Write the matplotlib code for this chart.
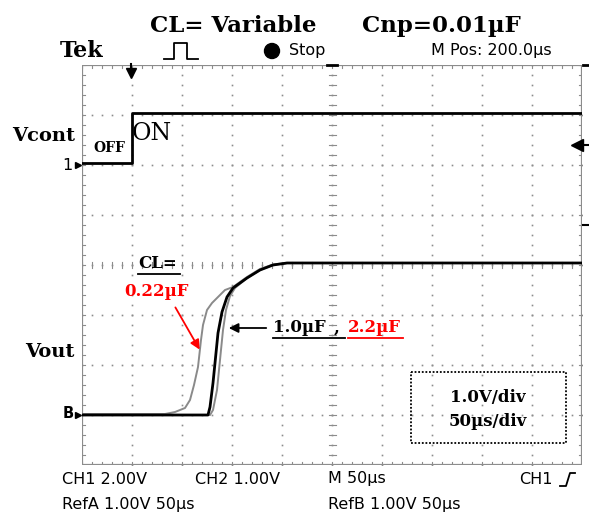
import matplotlib.pyplot as plt
import numpy as np
from matplotlib.patches import Rectangle, Circle

# scope traces, in divisions (x: 50us/div, y: 1 div steps)
vcont_t = [0.0, 1.0, 1.0, 10.0]
vcont_v = [6.04, 6.04, 7.04, 7.04]

# CL = 1.0uF (black)
t_10u = [0, 2.52, 2.56, 2.62, 2.66, 2.72, 2.80, 2.90, 3.02, 3.30, 3.56, 3.82, 4.10, 10]
v_10u = [1.0, 1.0, 1.16, 1.64, 2.04, 2.64, 3.06, 3.36, 3.54, 3.74, 3.90, 4.00, 4.04, 4.04]

# CL = 0.22uF (gray, earliest)
t_022u = [0, 1.66, 1.86, 2.06, 2.16, 2.24, 2.32, 2.38, 2.42, 2.50, 2.60, 2.72, 2.86,
          3.02, 3.30, 3.56, 3.82, 4.10, 10]
v_022u = [1.02, 1.02, 1.06, 1.14, 1.30, 1.60, 1.96, 2.50, 2.80, 3.10, 3.24, 3.36, 3.50,
          3.56, 3.76, 3.92, 4.01, 4.04, 4.04]

# CL = 2.2uF (gray, latest)
t_22u = [0, 2.56, 2.62, 2.70, 2.76, 2.82, 2.88, 2.96, 3.06, 3.30, 3.56, 3.82, 4.10, 10]
v_22u = [1.0, 1.0, 1.10, 1.50, 2.10, 2.70, 3.10, 3.38, 3.54, 3.74, 3.90, 4.00, 4.04, 4.04]

W, H = 589, 521
fig = plt.figure(figsize=(W / 100, H / 100), dpi=100)

# screen area: 500 x 400 px, 10 x 8 div
L, R, T, B = 82, 582, 65, 465
ax = fig.add_axes([L / W, (H - B) / H, (R - L) / W, (B - T) / H])
ax.set_xlim(0, 10)
ax.set_ylim(0, 8)
ax.axis('off')

grid_c = '#8c8c8c'
# dotted graticule
fine = np.arange(0, 10.01, 0.2)
ys = np.arange(0, 8.01, 0.2)
for gx in range(1, 10):
    ax.plot(np.full_like(ys, gx), ys, ls='none', marker='s', ms=1.2, color=grid_c, mew=0)
for gy in range(1, 8):
    ax.plot(fine, np.full_like(fine, gy), ls='none', marker='s', ms=1.2, color=grid_c, mew=0)
# centre lines with ticks
for yy in ys:
    ax.plot([4.93, 5.07], [yy, yy], color=grid_c, lw=0.8)
for xx in fine:
    ax.plot([xx, xx], [3.94, 4.06], color=grid_c, lw=0.8)
# border with ticks
ax.add_patch(Rectangle((0, 0), 10, 8, fill=False, ec=grid_c, lw=1.6, zorder=5))
for xx in fine:
    ax.plot([xx, xx], [0, 0.06], color=grid_c, lw=0.8)
    ax.plot([xx, xx], [8, 7.94], color=grid_c, lw=0.8)
for yy in ys:
    ax.plot([0, 0.06], [yy, yy], color=grid_c, lw=0.8)
    ax.plot([10, 9.94], [yy, yy], color=grid_c, lw=0.8)

# traces
ax.plot(t_022u, v_022u, color='#8a8a8a', lw=1.4, zorder=6)
ax.plot(t_22u, v_22u, color='#8a8a8a', lw=1.4, zorder=6)
ax.plot(t_10u, v_10u, color='black', lw=2.0, zorder=7)
ax.plot(vcont_t, vcont_v, color='black', lw=2.0, zorder=7)

# overlay in pixel coordinates for the labels
ov = fig.add_axes([0, 0, 1, 1], zorder=10)
ov.set_xlim(0, W)
ov.set_ylim(H, 0)
ov.axis('off')
ov.patch.set_alpha(0)

serif = 'DejaVu Serif'
scope = 'DejaVu Sans'
fs_scope = 11.5

ov.text(150, 32, 'CL= Variable', fontsize=16.5, fontweight='bold', family=serif, va='baseline')
ov.text(362, 32, 'Cnp=0.01µF', fontsize=16.5, fontweight='bold', family=serif, va='baseline')
ov.text(60, 51, 'Tek', fontsize=16, fontweight='bold', family=serif, va='center')
ov.plot([164, 174, 174, 187, 187, 198], [59, 59, 43, 43, 59, 59], color='black', lw=1.3)
ov.add_patch(Circle((272, 51), 7.5, color='black'))
ov.text(289, 51, 'Stop', fontsize=fs_scope, family=scope, va='center')
ov.text(431, 51, 'M Pos: 200.0µs', fontsize=fs_scope, family=scope, va='center')

# markers around the screen
ov.plot([131, 131], [64, 72], color='black', lw=1.5)
ov.plot(131, 73, marker='v', ms=7, color='black')
ov.plot([327, 337], [65, 65], color='black', lw=2)
ov.plot([583, 590], [65, 65], color='black', lw=2)
ov.plot(577, 145, marker='<', ms=8, color='black')
ov.plot([577, 590], [145, 145], color='black', lw=1.5)
ov.plot([583, 590], [225, 225], color='black', lw=1.5)
ov.text(73, 165, '1', fontsize=fs_scope, family=scope, va='center', ha='right')
ov.plot(78, 165, marker='>', ms=5, color='black')
ov.text(74, 414, 'B', fontsize=10.5, fontweight='bold', family=scope, va='center', ha='right')
ov.plot(78, 415, marker='>', ms=5, color='black')

ov.text(12, 136, 'Vcont', fontsize=14, fontweight='bold', family=serif, va='center')
ov.text(25, 352, 'Vout', fontsize=14, fontweight='bold', family=serif, va='center')
ov.text(93, 148, 'OFF', fontsize=10, fontweight='bold', family=serif, va='center')
ov.text(132, 133, 'ON', fontsize=17, family=serif, va='center')

ov.text(138, 264, 'CL=', fontsize=12, fontweight='bold', family=serif, va='center')
ov.plot([138, 180], [274, 274], color='black', lw=1.3)
ov.text(124, 291, '0.22µF', fontsize=12, fontweight='bold', family=serif, va='center', color='red')
ov.annotate('', xy=(201, 352), xytext=(174, 305),
            arrowprops=dict(arrowstyle='-|>', color='red', lw=1.3, mutation_scale=14))

ov.text(273, 328, '1.0µF', fontsize=12, fontweight='bold', family=serif, va='center')
ov.text(334, 328, ',', fontsize=12, fontweight='bold', family=serif, va='center')
ov.text(348, 328, '2.2µF', fontsize=12, fontweight='bold', family=serif, va='center', color='red')
ov.plot([273, 345], [338, 338], color='black', lw=1.3)
ov.plot([348, 403], [338, 338], color='red', lw=1.3)
ov.annotate('', xy=(226, 328), xytext=(269, 328),
            arrowprops=dict(arrowstyle='-|>', color='black', lw=1.3, mutation_scale=14))

ov.add_patch(Rectangle((411, 372), 155, 71, fill=False, ec='black', lw=1.3, ls=(0, (1, 1))))
ov.text(488, 397, '1.0V/div', fontsize=12, fontweight='bold', family=serif, va='center', ha='center')
ov.text(488, 421, '50µs/div', fontsize=12, fontweight='bold', family=serif, va='center', ha='center')

ov.text(62, 479, 'CH1 2.00V', fontsize=fs_scope, family=scope, va='center')
ov.text(195, 479, 'CH2 1.00V', fontsize=fs_scope, family=scope, va='center')
ov.text(328, 479, 'M 50µs', fontsize=fs_scope, family=scope, va='center')
ov.text(519, 479, 'CH1', fontsize=fs_scope, family=scope, va='center')
ov.plot([560, 566, 570, 575], [486, 486, 473, 473], color='black', lw=1.3)
ov.text(62, 504, 'RefA 1.00V 50µs', fontsize=fs_scope, family=scope, va='center')
ov.text(328, 504, 'RefB 1.00V 50µs', fontsize=fs_scope, family=scope, va='center')

fig.savefig('out.png', dpi=100)
